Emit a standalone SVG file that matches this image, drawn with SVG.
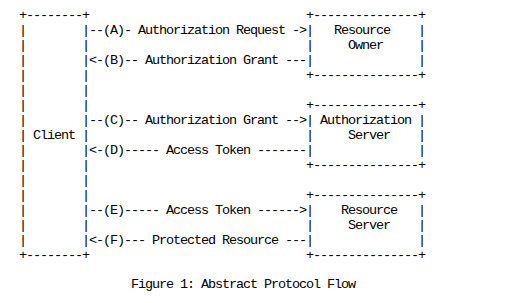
<svg xmlns="http://www.w3.org/2000/svg" width="506" height="303" viewBox="0 0 506 303">
<style>
text{font-family:"Liberation Mono","DejaVu Sans Mono",monospace;font-size:13.5px;letter-spacing:-1.1px;fill:#000;white-space:pre}
</style>
<rect width="506" height="303" fill="#fff"/>
<g id="client">
<text x="19" y="19">+--------+</text>
<text x="19" y="34">|        |</text>
<text x="19" y="49">|        |</text>
<text x="19" y="64">|        |</text>
<text x="19" y="79">|        |</text>
<text x="19" y="94">|        |</text>
<text x="19" y="109">|        |</text>
<text x="19" y="124">|        |</text>
<text x="19" y="139">| Client |</text>
<text x="19" y="154">|        |</text>
<text x="19" y="169">|        |</text>
<text x="19" y="184">|        |</text>
<text x="19" y="199">|        |</text>
<text x="19" y="214">|        |</text>
<text x="19" y="229">|        |</text>
<text x="19" y="244">|        |</text>
<text x="19" y="259">+--------+</text>
</g>
<g id="resource-owner">
<text x="306" y="19">+---------------+</text>
<text x="306" y="34">|   Resource    |</text>
<text x="306" y="49">|     Owner     |</text>
<text x="306" y="64">|               |</text>
<text x="306" y="79">+---------------+</text>
</g>
<g id="authorization-server">
<text x="306" y="109">+---------------+</text>
<text x="306" y="124">| Authorization |</text>
<text x="306" y="139">|     Server    |</text>
<text x="306" y="154">|               |</text>
<text x="306" y="169">+---------------+</text>
</g>
<g id="resource-server">
<text x="306" y="199">+---------------+</text>
<text x="306" y="214">|    Resource   |</text>
<text x="306" y="229">|     Server    |</text>
<text x="306" y="244">|               |</text>
<text x="306" y="259">+---------------+</text>
</g>
<g id="connectors">
<text x="89" y="34">--(A)- Authorization Request -&gt;</text>
<text x="89" y="64">&lt;-(B)-- Authorization Grant ---</text>
<text x="89" y="124">--(C)-- Authorization Grant --&gt;</text>
<text x="89" y="154">&lt;-(D)----- Access Token -------</text>
<text x="89" y="214">--(E)----- Access Token ------&gt;</text>
<text x="89" y="244">&lt;-(F)--- Protected Resource ---</text>
</g>
<text id="caption" x="131" y="288">Figure 1: Abstract Protocol Flow</text>
</svg>
